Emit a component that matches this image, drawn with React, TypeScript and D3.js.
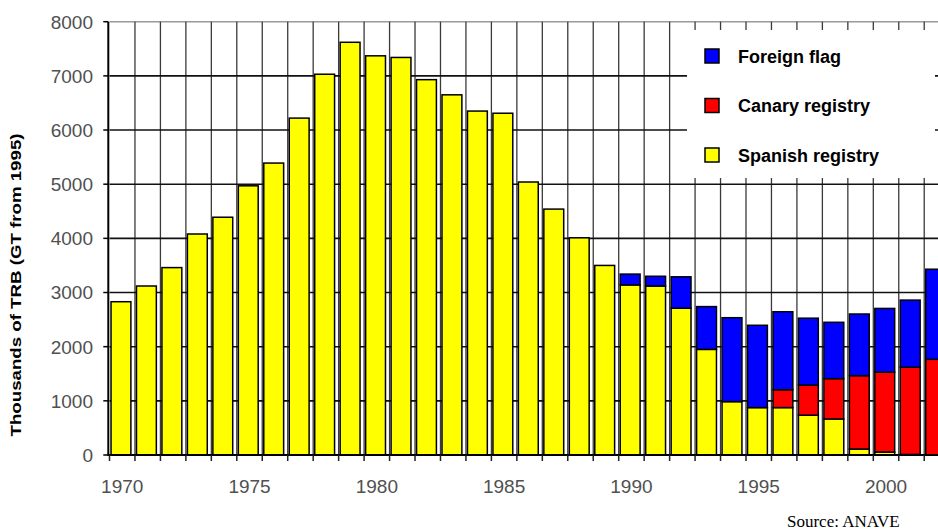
import React, { useEffect, useRef } from "react";
import * as d3 from "d3";

// years on the x axis (last one is cut by the right edge of the picture)
const years = d3.range(1970, 2003);

// thousands of TRB / GT
const spanish = [
  2830, 3120, 3460, 4080, 4390, 4970, 5390, 6220, 7030, 7620,
  7370, 7340, 6930, 6650, 6350, 6310, 5040, 4540, 4010, 3500,
  3140, 3120, 2710, 1950, 985, 875, 875, 735, 665, 110,
  55, 10, 0,
];
const canary = [
  0, 0, 0, 0, 0, 0, 0, 0, 0, 0,
  0, 0, 0, 0, 0, 0, 0, 0, 0, 0,
  0, 0, 0, 0, 0, 0, 330, 555, 745, 1355,
  1475, 1610, 1767,
];
const foreign = [
  0, 0, 0, 0, 0, 0, 0, 0, 0, 0,
  0, 0, 0, 0, 0, 0, 0, 0, 0, 0,
  200, 180, 580, 790, 1550, 1520, 1440, 1236, 1040, 1138,
  1176, 1240, 1663,
];

const yTicks = [0, 1000, 2000, 3000, 4000, 5000, 6000, 7000, 8000];
const xLabelYears = [1970, 1975, 1980, 1985, 1990, 1995, 2000];

const seriesKeys = ["spanish", "canary", "foreign"];
const seriesColors = { spanish: "#ffff00", canary: "#ff0000", foreign: "#0000ff" };
const legendItems = [
  { key: "foreign", label: "Foreign flag" },
  { key: "canary", label: "Canary registry" },
  { key: "spanish", label: "Spanish registry" },
];

const W = 938;
const H = 531;

export default function App() {
  const ref = useRef(null);

  useEffect(() => {
    const svg = d3.select(ref.current);
    svg.selectAll("*").remove();

    const x0 = 109.5;
    const step = 25.46;
    const x = d3.scaleBand().domain(years.map(String)).range([x0, x0 + years.length * step]).padding(0);
    const y = d3.scaleLinear().domain([0, 8000]).range([455, 21.7]);
    const bw = x.bandwidth();

    const rows = years.map((yr, i) => ({
      year: String(yr),
      spanish: spanish[i],
      canary: canary[i],
      foreign: foreign[i],
    }));

    // top border
    svg.append("line")
      .attr("x1", x0).attr("x2", W)
      .attr("y1", y(8000)).attr("y2", y(8000))
      .attr("stroke", "#9a9a9a").attr("stroke-width", 1.5);

    // vertical grid lines on category boundaries
    svg.append("g")
      .selectAll("line")
      .data(years.slice(1))
      .join("line")
      .attr("x1", d => x(String(d))).attr("x2", d => x(String(d)))
      .attr("y1", y(8000)).attr("y2", y(0))
      .attr("stroke", "#3a3a3a").attr("stroke-width", 1.3);

    // horizontal grid lines
    svg.append("g")
      .selectAll("line")
      .data(yTicks.filter(t => t > 0 && t < 8000))
      .join("line")
      .attr("x1", x0).attr("x2", W)
      .attr("y1", d => y(d)).attr("y2", d => y(d))
      .attr("stroke", "#111").attr("stroke-width", 1.6);

    // legend box sits over the grid
    svg.append("rect")
      .attr("x", 687).attr("y", 30)
      .attr("width", 248).attr("height", 148)
      .attr("fill", "#fff");

    // stacked bars
    const stacked = d3.stack().keys(seriesKeys)(rows);
    svg.append("g")
      .selectAll("g")
      .data(stacked)
      .join("g")
      .attr("fill", d => seriesColors[d.key])
      .selectAll("rect")
      .data(d => d.filter(s => s[1] - s[0] > 0))
      .join("rect")
      .attr("x", d => x(d.data.year) + bw * 0.06)
      .attr("width", bw * 0.78)
      .attr("y", d => y(d[1]))
      .attr("height", d => y(d[0]) - y(d[1]))
      .attr("stroke", "#000")
      .attr("stroke-width", 1.5);

    // axes
    const axisX = x0 - 1.2;
    svg.append("line")
      .attr("x1", axisX).attr("x2", axisX)
      .attr("y1", y(8000)).attr("y2", y(0) + 1)
      .attr("stroke", "#000").attr("stroke-width", 2);
    svg.append("line")
      .attr("x1", axisX).attr("x2", W)
      .attr("y1", y(0)).attr("y2", y(0))
      .attr("stroke", "#000").attr("stroke-width", 2);

    // y ticks and labels
    svg.append("g")
      .selectAll("line")
      .data(yTicks)
      .join("line")
      .attr("x1", axisX - 5).attr("x2", axisX)
      .attr("y1", d => y(d)).attr("y2", d => y(d))
      .attr("stroke", "#000").attr("stroke-width", 1.5);
    svg.append("g")
      .selectAll("text")
      .data(yTicks)
      .join("text")
      .attr("x", 93)
      .attr("y", d => y(d))
      .attr("dy", "0.36em")
      .attr("text-anchor", "end")
      .attr("font-family", "Liberation Sans, Arial, sans-serif")
      .attr("font-size", 19)
      .attr("fill", "#505050")
      .text(d => d);

    // x ticks on boundaries
    svg.append("g")
      .selectAll("line")
      .data(years)
      .join("line")
      .attr("x1", d => x(String(d))).attr("x2", d => x(String(d)))
      .attr("y1", y(0)).attr("y2", y(0) + 6)
      .attr("stroke", "#222").attr("stroke-width", 1.5);

    svg.append("g")
      .selectAll("text")
      .data(xLabelYears)
      .join("text")
      .attr("x", d => x(String(d)) + bw / 2)
      .attr("y", 493)
      .attr("text-anchor", "middle")
      .attr("font-family", "Liberation Sans, Arial, sans-serif")
      .attr("font-size", 19)
      .attr("fill", "#505050")
      .text(d => d);

    // y title
    svg.append("text")
      .attr("transform", "translate(21,285) rotate(-90)")
      .attr("text-anchor", "middle")
      .attr("font-family", "Liberation Sans, Arial, sans-serif")
      .attr("font-weight", "bold")
      .attr("font-size", 15)
      .attr("textLength", 303)
      .attr("lengthAdjust", "spacingAndGlyphs")
      .attr("fill", "#000")
      .text("Thousands of TRB (GT from 1995)");

    // legend
    const lg = svg.append("g");
    legendItems.forEach((it, i) => {
      const cy = 56 + i * 49.5;
      lg.append("rect")
        .attr("x", 705).attr("y", cy - 7)
        .attr("width", 14).attr("height", 14)
        .attr("fill", seriesColors[it.key])
        .attr("stroke", "#000").attr("stroke-width", 1.5);
      lg.append("text")
        .attr("x", 738).attr("y", cy + 6.5)
        .attr("font-family", "Liberation Sans, Arial, sans-serif")
        .attr("font-weight", "bold")
        .attr("font-size", 18)
        .attr("fill", "#000")
        .text(it.label);
    });

    // source note
    svg.append("text")
      .attr("x", 787).attr("y", 527)
      .attr("font-family", "Liberation Serif, Times New Roman, serif")
      .attr("font-size", 17)
      .attr("fill", "#000")
      .text("Source: ANAVE");
  }, []);

  return (
    <svg
      ref={ref}
      width={W}
      height={H}
      style={{ position: "absolute", left: 0, top: 0, display: "block", background: "#fff" }}
    />
  );
}
